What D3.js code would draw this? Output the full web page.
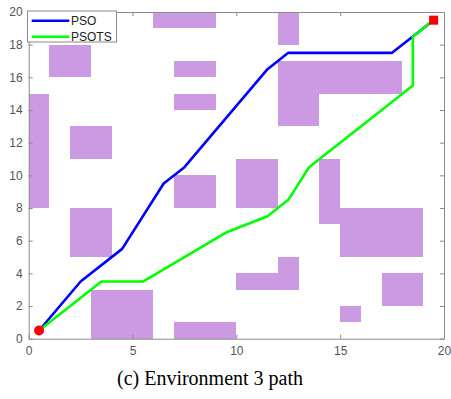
<!DOCTYPE html>
<html>
<head>
<meta charset="utf-8">
<script src="https://cdn.jsdelivr.net/npm/d3@7"></script>
<style>
html,body{margin:0;padding:0;background:#fff;}
svg{display:block;}
</style>
</head>
<body>
<svg id="chart" width="451" height="399"></svg>
<script>
// Obstacles: [x0, y0, x1, y1] in grid units
const obstacles = [
  [0, 8, 1, 15],
  [1, 16, 3, 18],
  [2, 11, 4, 13],
  [2, 5, 4, 8],
  [3, 0, 6, 3],
  [6, 19, 9, 20],
  [7, 16, 9, 17],
  [7, 14, 9, 15],
  [7, 8, 9, 10],
  [7, 0, 10, 1],
  [12, 18, 13, 20],
  [12, 15, 18, 17],
  [12, 13, 14, 15],
  [10, 8, 12, 11],
  [14, 7, 15, 11],
  [15, 5, 19, 8],
  [10, 3, 13, 4],
  [12, 4, 13, 5],
  [17, 2, 19, 4],
  [15, 1, 16, 2]
];
const psoX = [0.5, 2.5, 4.5, 6.5, 7.5, 11.5, 12.5, 17.5, 18.5, 19.5];
const psoY = [0.5, 3.5, 5.5, 9.5, 10.5, 16.5, 17.5, 17.5, 18.5, 19.5];
const psotsX = [0.5, 3.5, 5.5, 9.5, 11.5, 12.5, 13.5, 18.5, 18.5, 19.5];
const psotsY = [0.5, 3.5, 3.5, 6.5, 7.5, 8.5, 10.5, 15.5, 18.5, 19.5];
const startPt = [0.5, 0.5];
const goalPt = [19.5, 19.5];
const xTicks = [0, 5, 10, 15, 20];
const yTicks = [0, 2, 4, 6, 8, 10, 12, 14, 16, 18, 20];
const seriesNames = ["PSO", "PSOTS"];
const seriesColors = ["#0000ff", "#00ff00"];
const caption = "(c) Environment 3 path";

const svg = d3.select("#chart");
const L = 28.7, R = 444, T = 12, B = 338.7;
const x = d3.scaleLinear().domain([0, 20]).range([L, R]);
const y = d3.scaleLinear().domain([0, 20]).range([B, T]);
const axisColor = "#8a8a8a";
const labelColor = "#555";

// obstacles
svg.append("g").selectAll("rect").data(obstacles).join("rect")
  .attr("x", d => x(d[0]))
  .attr("y", d => y(d[3]))
  .attr("width", d => x(d[2]) - x(d[0]))
  .attr("height", d => y(d[1]) - y(d[3]))
  .attr("fill", "#cc99e3")
  .attr("shape-rendering", "crispEdges");

// axes
const tickLen = 4;
const gx = svg.append("g").attr("transform", `translate(0,${B})`)
  .call(d3.axisBottom(x).tickValues(xTicks).tickSizeInner(-tickLen).tickSizeOuter(0).tickPadding(8));
const gxt = svg.append("g").attr("transform", `translate(0,${T})`)
  .call(d3.axisTop(x).tickValues(xTicks).tickSizeInner(-tickLen).tickSizeOuter(0).tickFormat(""));
const gy = svg.append("g").attr("transform", `translate(${L},0)`)
  .call(d3.axisLeft(y).tickValues(yTicks).tickSizeInner(-tickLen).tickSizeOuter(0).tickPadding(6));
const gyr = svg.append("g").attr("transform", `translate(${R},0)`)
  .call(d3.axisRight(y).tickValues(yTicks).tickSizeInner(-tickLen).tickSizeOuter(0).tickFormat(""));
[gx, gxt, gy, gyr].forEach(g => {
  g.selectAll("path.domain").attr("stroke", axisColor).attr("stroke-width", 1);
  g.selectAll(".tick line").attr("stroke", axisColor);
  g.selectAll(".tick text").attr("fill", labelColor)
    .style("font-family", "Liberation Sans, Arial, sans-serif").style("font-size", "12px");
});

// paths
const line = d3.line().x(d => x(d[0])).y(d => y(d[1]));
const series = [
  psoX.map((v, i) => [v, psoY[i]]),
  psotsX.map((v, i) => [v, psotsY[i]])
];
series.forEach((s, i) => {
  svg.append("path").datum(s).attr("d", line)
    .attr("fill", "none").attr("stroke", seriesColors[i])
    .attr("stroke-width", 2.6).attr("stroke-linejoin", "round");
});

// start / goal markers
svg.append("circle").attr("cx", x(startPt[0])).attr("cy", y(startPt[1]))
  .attr("r", 5).attr("fill", "#ff0000");
svg.append("rect").attr("x", x(goalPt[0]) - 4.5).attr("y", y(goalPt[1]) - 4.5)
  .attr("width", 9).attr("height", 9).attr("fill", "#ff0000");

// legend
const lg = svg.append("g");
lg.append("rect").attr("x", 27.5).attr("y", 11).attr("width", 89).attr("height", 31)
  .attr("fill", "#fff").attr("stroke", "#8a8a8a").attr("stroke-width", 1);
seriesNames.forEach((n, i) => {
  const yy = 20.7 + i * 16;
  lg.append("line").attr("x1", 31.7).attr("x2", 69.3).attr("y1", yy).attr("y2", yy)
    .attr("stroke", seriesColors[i]).attr("stroke-width", 2.6);
  lg.append("text").attr("x", 71).attr("y", yy + 4.3).text(n)
    .attr("fill", "#222").style("font-family", "Liberation Sans, Arial, sans-serif").style("font-size", "12px");
});

// caption
svg.append("text").attr("x", 210).attr("y", 385).attr("text-anchor", "middle")
  .text(caption).attr("fill", "#000")
  .style("font-family", "Liberation Serif, 'Times New Roman', serif").style("font-size", "20px");
</script>
</body>
</html>
